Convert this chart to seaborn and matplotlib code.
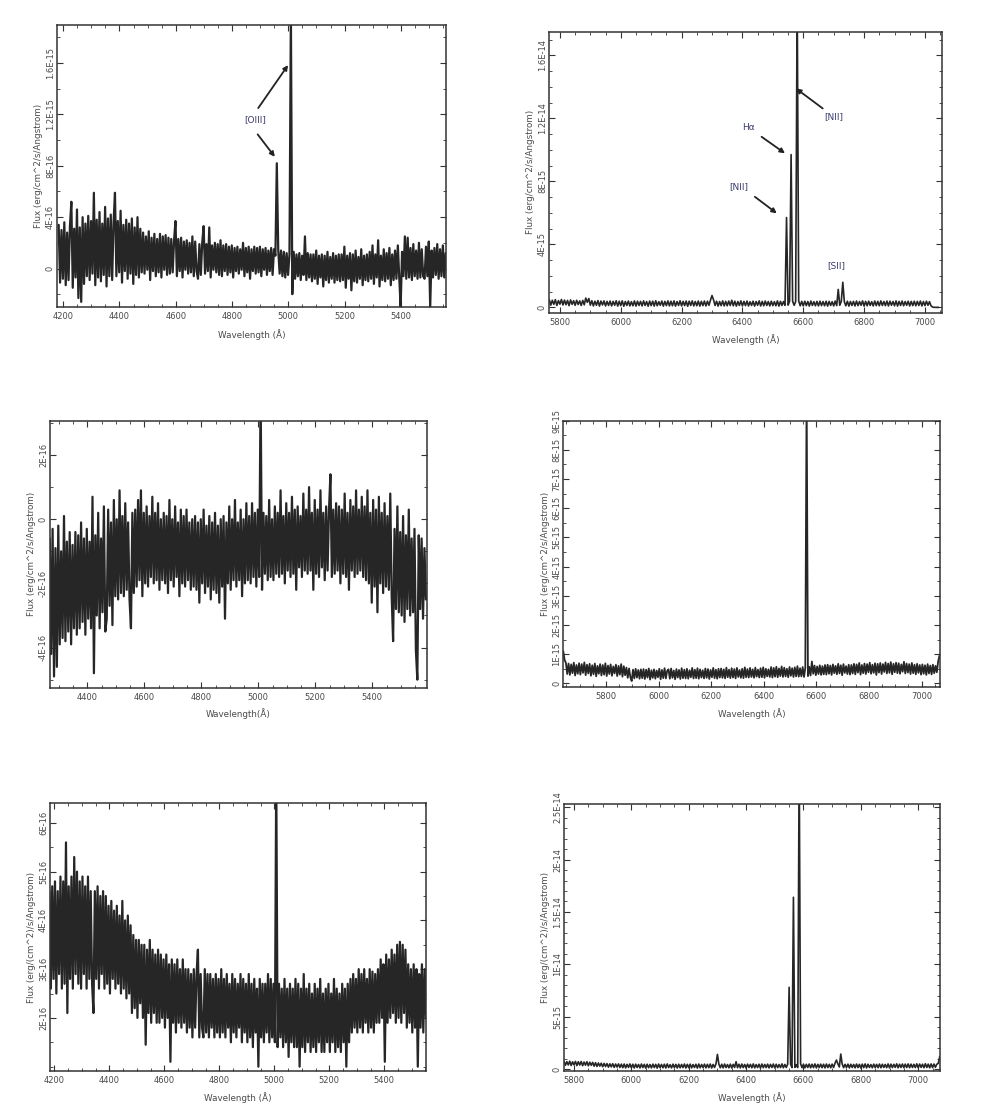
import numpy as np
import matplotlib
matplotlib.use("Agg")
import matplotlib.pyplot as plt
from matplotlib.ticker import MultipleLocator
import seaborn as sns

# ---------------- data (flux in units of 1e-16 erg/cm^2/s/A, 5 A sampling) ----------------
FLUX_UNIT = 1e-16
STEP = 5.0

P1_START = 4184.0
P1_FLUX = [
    3.4, -1.1, 3.0, -0.8, 3.6, -1.3, 2.8, -0.9, 3.3, 5.2, -1.5, 3.1, -0.7, 4.6, -2.3, 3.2, -2.6, 4.0, -1.2, 3.5,
    -0.6, 4.1, -0.9, 3.7, -0.4, 5.9, -1.3, 3.8, -0.7, 4.4, -1.0, 3.5, -0.5, 4.8, -1.4, 3.9, -0.6, 4.2, -0.9, 3.6,
    5.9, -0.6, 3.7, -0.3, 4.5, -1.1, 3.4, -0.2, 3.8, -0.8, 3.5, -0.4, 3.9, -1.2, 3.2, -0.5, 4.0, -0.7, 3.1, -0.3,
    2.8, -0.4, 2.5, -0.1, 2.9, -0.9, 2.4, -0.2, 2.7, -0.6, 2.3, -0.3, 2.7, -0.7, 2.5, -0.1, 2.6, -0.5, 2.4, -0.4,
    2.3, -0.3, 2.2, 3.7, -0.6, 2.3, -0.2, 2.4, -0.7, 2.1, -0.1, 2.2, -0.4, 2.0, -0.3, 2.5, -0.6, 2.1, -0.2, -0.8,
    1.9, -0.5, 2.0, 3.3, -0.4, 1.9, -0.2, 3.2, -0.7, 1.8, -0.1, 2.0, -0.3, 1.9, -0.5, 2.2, -0.6, 1.8, -0.2, 1.9,
    -0.5, 1.7, -0.3, 1.8, -0.7, 1.6, -0.2, 1.7, -0.4, 1.5, -0.1, 2.0, -0.6, 1.6, -0.3, 1.7, -0.8, 1.5, -0.2, 1.7,
    -0.4, 1.6, -0.3, 1.7, -0.6, 1.5, -0.1, 1.6, -0.5, 1.4, -0.2, 1.6, -0.5, 1.5, 1.0, 8.2, 1.5, -0.4, 1.4, -0.6,
    1.3, -0.7, 1.2, -0.5, 1.1, 20.0, -2.0, 1.3, -0.8, 1.1, -0.6, 1.2, -0.9, 1.0, -0.5, 2.5, -0.9, 1.2, -0.7, 1.1,
    -1.0, 1.1, -0.8, 1.4, -1.2, 1.0, -0.7, 1.1, -1.4, 1.0, -0.9, 1.3, -1.1, 0.9, -0.8, 1.2, -1.1, 1.0, -0.9, 1.1,
    -1.0, 1.1, -0.9, 1.7, -1.5, 1.0, -0.8, 1.2, -1.7, 1.1, -1.0, 1.4, -1.1, 0.9, -0.8, 1.5, -1.3, 1.0, -0.9, 1.1,
    -1.0, 1.3, -0.8, 1.8, -1.2, 1.1, -0.7, 2.2, -1.4, 1.0, -0.9, 1.5, -1.0, 1.2, -0.8, 1.6, -1.3, 1.1, -0.9, 1.4,
    -0.8, 1.8, -0.7, -3.0, 1.3, -0.6, 2.5, -0.8, 2.4, -0.7, 1.6, -0.9, 1.9, -0.6, 1.4, -0.8, 2.0, -0.7, 1.5, -0.6,
    -0.8, 1.7, -0.6, 2.1, -3.0, 1.4, -0.7, 1.6, -0.5, 1.9, -0.8, 1.5, -0.6, 1.8, -0.7, 1.2,
]

P2_START = 5765.0
P2_FLUX = [
    4.8, 1.4, 4.5, 1.9, 4.9, 1.2, 4.3, 2.0, 5.0, 1.5, 4.6, 1.7, 4.4, 1.1, 4.7, 1.9, 4.2, 1.3, 4.5, 1.8,
    4.1, 1.2, 4.4, 1.6, 5.9, 3.2, 5.6, 1.4, 4.2, 0.9, 3.9, 1.3, 4.3, 0.8, 4.0, 1.5, 4.1, 0.9, 3.8, 1.2,
    4.0, 0.9, 3.8, 1.3, 4.2, 0.8, 3.9, 1.1, 4.1, 0.7, 3.7, 1.2, 4.0, 0.9, 3.6, 1.0, 4.1, 0.8, 3.9, 1.2,
    3.8, 0.9, 4.1, 1.2, 3.7, 0.7, 4.0, 1.1, 3.9, 0.8, 4.2, 1.0, 3.6, 1.3, 4.0, 0.8, 3.8, 1.1, 4.1, 0.9,
    3.9, 1.0, 4.1, 0.8, 3.7, 1.2, 4.2, 0.9, 3.8, 1.1, 4.0, 0.7, 3.9, 1.2, 4.1, 0.9, 3.7, 1.0, 4.0, 0.8,
    3.8, 1.1, 4.0, 0.9, 3.9, 1.3, 4.6, 7.5, 4.8, 1.2, 3.9, 0.8, 3.7, 1.1, 4.1, 0.9, 3.8, 1.0, 4.0, 1.2,
    4.5, 1.0, 3.9, 0.8, 3.7, 1.2, 4.1, 0.9, 3.8, 1.1, 4.0, 0.9, 3.6, 1.2, 3.9, 0.8, 3.7, 1.3, 4.1, 0.9,
    3.8, 1.0, 4.0, 1.2, 3.7, 0.9, 3.9, 1.1, 3.6, 1.0, 4.1, 0.8, 3.8, 1.2, 3.7, 1.3, 57.0, 1.4, 3.8, 97.0,
    3.9, 1.3, 3.7, 200.0, 4.0, 1.0, 3.8, 0.9, 3.9, 1.1, 3.7, 0.8, 4.0, 1.2, 3.6, 1.0, 3.8, 0.9, 3.9, 1.1,
    3.7, 1.0, 3.9, 0.8, 3.8, 1.2, 3.6, 0.9, 4.0, 1.1, 11.4, 1.3, 3.8, 15.9, 3.6, 1.0, 3.9, 0.8, 3.7, 1.2,
    3.8, 0.9, 4.0, 1.1, 3.7, 1.3, 4.1, 0.8, 3.8, 1.0, 3.9, 1.2, 3.6, 0.9, 4.0, 1.1, 3.8, 1.0, 4.1, 1.2,
    3.7, 1.1, 4.0, 0.9, 3.9, 1.3, 3.7, 1.0, 4.1, 0.8, 3.8, 1.2, 4.0, 1.0, 3.7, 1.3, 3.9, 0.9, 3.8, 1.1,
    3.9, 1.0, 3.8, 1.2, 4.0, 0.9, 3.7, 1.1, 3.9, 1.3, 3.6, 1.0, 0.2, 0.0, 0.0, 0.0, 0.0,
]

P3_START = 4268.0
P3_FLUX = [
    -0.6, -4.2, -0.3, -4.9, -0.9, -4.6, -0.2, -3.9, -1.0, -3.7, 0.1, -3.8, -0.7, -3.5, -0.4, -3.9, -0.8, -3.4, -0.4, -3.6,
    -0.5, -3.4, -0.1, -3.2, -0.6, -3.6, -0.3, -3.1, -0.7, -3.4, 0.7, -4.8, -0.5, -3.0, 0.2, -3.4, -0.6, -2.9, 0.4, -3.5,
    -3.1, 0.3, -2.7, -0.1, -3.3, 0.6, -2.4, 0.0, -2.5, 0.9, -2.3, 0.1, -2.4, 0.5, -2.2, -0.1, -2.5, -3.4, 0.2, -2.3,
    0.3, -2.1, 0.6, -1.9, 0.9, -2.4, 0.2, -2.0, 0.4, -2.1, 0.1, -1.8, 0.7, -2.0, 0.2, -1.9, 0.5, -2.2, 0.0, -1.9,
    0.2, -2.0, 0.1, -2.3, 0.6, -1.9, 0.0, -2.1, 0.4, -1.8, -0.1, -2.4, 0.3, -2.0, 0.1, -2.1, 0.3, -1.9, -0.1, -2.2,
    0.0, -2.1, 0.1, -2.2, -0.1, -2.6, 0.0, -2.0, 0.3, -2.3, -0.2, -2.1, 0.1, -2.5, -0.1, -2.2, 0.2, -2.3, -0.2, -2.6,
    0.0, -2.1, 0.1, -3.1, -0.1, -2.0, 0.4, -2.2, 0.0, -1.9, 0.6, -2.1, -0.1, -1.9, 0.3, -2.4, 0.0, -2.0, 0.5, -1.9,
    0.1, -2.0, 0.5, -1.8, 0.2, -2.1, 0.3, -1.8, 4.0, -2.2, 0.2, -1.7, 0.1, -1.9, 0.6, -1.8, 0.0, -1.9, 0.4, -1.7,
    0.2, -1.8, 0.9, -1.7, 0.1, -2.0, 0.5, -1.6, 0.2, -1.8, 0.7, -1.7, 0.3, -2.2, 0.4, -1.5, 0.1, -1.8, 0.8, -1.6,
    0.3, -1.7, 1.0, -1.6, 0.2, -2.2, 0.6, -1.7, 0.3, -1.8, 0.9, -1.5, 0.2, -1.9, 0.4, -1.6, 0.3, 1.4, -1.8, 0.3,
    -1.7, 0.5, -1.6, 0.4, -2.0, 0.3, -1.7, 0.8, -1.8, 0.2, -2.2, 0.6, -1.6, 0.4, -1.8, 0.9, -1.7, 0.3, -1.6, 0.7,
    -1.8, 0.4, -1.9, 0.9, -2.0, 0.2, -2.6, 0.6, -2.1, 0.3, -2.9, 0.7, -2.0, 0.2, -2.3, 0.5, -2.1, 0.1, -2.2, 0.8,
    -2.4, -3.8, -0.3, -2.8, 0.4, -2.9, -0.4, -3.0, 0.1, -3.2, -0.5, -2.8, 0.3, -3.0, -0.6, -2.9, -0.3, -4.1, -5.0, -0.5,
    -2.8, -0.6, -3.1, -0.9, -2.5,
]

P4_START = 5638.0
P4_FLUX = [
    11.0, 8.0, 7.0, 3.2, 6.8, 2.9, 6.5, 3.5, 7.1, 2.7, 6.3, 3.3, 6.9, 3.0, 6.6, 3.6, 7.2, 2.8, 6.4, 3.4,
    6.7, 2.6, 6.2, 3.1, 6.8, 2.4, 6.0, 3.3, 6.6, 2.7, 6.3, 3.0, 6.9, 2.5, 6.1, 3.2, 6.5, 2.6, 5.8, 3.4,
    6.4, 2.5, 6.0, 3.0, 6.6, 2.3, 5.9, 2.8, 5.4, 1.9, 5.1, 2.1, 0.8, 4.7, 1.7, 5.0, 2.0, 4.6, 1.6, 4.8,
    1.8, 4.9, 1.5, 4.7, 2.0, 5.1, 1.3, 4.5, 1.9, 4.8, 1.6, 4.4, 2.1, 5.0, 1.4, 4.6, 1.8, 5.2, 1.7, 4.3,
    4.8, 1.6, 5.1, 1.9, 4.4, 1.4, 4.9, 2.0, 4.6, 1.5, 5.2, 1.8, 4.7, 1.7, 5.0, 1.6, 4.5, 2.1, 5.3, 1.7,
    4.7, 1.8, 5.2, 1.6, 4.8, 2.0, 4.5, 1.7, 5.1, 1.9, 4.9, 1.5, 4.6, 2.1, 5.3, 1.8, 4.7, 1.6, 5.0, 2.0,
    5.1, 1.9, 4.8, 1.7, 5.4, 2.1, 4.7, 1.8, 5.2, 2.0, 4.9, 1.7, 5.3, 2.2, 4.6, 1.9, 5.0, 1.8, 5.5, 2.1,
    4.9, 2.0, 5.3, 2.2, 4.8, 1.9, 5.4, 2.3, 4.7, 2.0, 5.2, 2.1, 5.5, 1.9, 5.0, 2.4, 4.8, 2.2, 5.6, 2.0,
    5.3, 2.3, 5.7, 2.1, 5.1, 2.5, 5.8, 2.2, 5.4, 2.4, 5.0, 2.1, 5.6, 2.6, 5.2, 2.2, 5.5, 2.4, 5.9, 2.3,
    5.2, 2.4, 5.6, 2.2, 5.3, 100.0, 2.5, 5.7, 2.7, 7.5, 3.3, 6.1, 2.8, 5.8, 3.2, 6.2, 2.9, 5.9, 3.1, 6.3,
    3.0, 6.4, 3.3, 6.1, 2.9, 6.5, 3.5, 6.0, 3.1, 6.7, 3.4, 6.2, 2.8, 6.6, 3.6, 5.9, 3.2, 6.4, 3.0, 6.3,
    3.4, 6.7, 3.1, 6.5, 3.7, 7.0, 3.0, 6.3, 3.5, 6.8, 3.2, 6.6, 3.8, 7.1, 3.3, 6.4, 3.6, 6.9, 2.9, 6.7,
    3.7, 7.0, 3.2, 6.6, 3.9, 7.2, 3.4, 6.8, 3.6, 7.3, 3.1, 6.7, 3.8, 7.1, 3.5, 6.9, 3.3, 6.5, 4.0, 7.4,
    3.4, 6.8, 3.7, 6.6, 3.2, 7.0, 3.5, 6.4, 3.1, 6.7, 3.6, 6.3, 3.0, 6.5, 3.3, 6.2, 2.9, 6.6, 3.4, 6.1,
    3.1, 6.4, 3.5, 6.0, 3.8, 7.5, 9.5,
]

P5_START = 4182.0
P5_FLUX = [
    4.6, 2.6, 4.7, 2.8, 4.8, 2.5, 4.6, 2.9, 4.9, 2.6, 4.8, 2.7, 5.6, 2.1, 4.7, 2.8, 4.9, 2.6, 5.3, 2.9,
    5.0, 2.7, 4.8, 2.6, 4.9, 2.9, 4.7, 2.6, 4.9, 2.8, 4.6, 2.7, 2.1, 4.6, 2.8, 4.7, 2.6, 4.5, 2.9, 4.6,
    2.6, 4.5, 2.7, 4.3, 2.5, 4.4, 2.8, 4.2, 2.6, 4.3, 2.7, 4.1, 2.5, 4.4, 2.6, 4.0, 2.4, 4.1, 2.5, 3.9,
    2.1, 3.7, 2.2, 3.6, 2.0, 3.6, 2.3, 3.5, 2.0, 3.5, 1.45, 3.4, 2.1, 3.6, 1.9, 3.4, 2.1, 3.3, 1.9, 3.4,
    1.9, 3.3, 2.0, 3.2, 1.8, 3.3, 2.0, 3.1, 1.1, 3.2, 1.9, 3.1, 1.7, 3.2, 1.9, 3.0, 1.8, 3.2, 1.9, 3.0,
    1.7, 3.0, 1.8, 2.9, 1.6, 3.0, 1.8, 2.9, 3.4, 1.6, 2.9, 1.8, 1.6, 3.0, 1.7, 2.9, 1.6, 2.9, 1.8, 2.8,
    1.6, 2.9, 1.7, 2.8, 1.6, 3.0, 1.7, 2.8, 1.6, 2.9, 1.8, 2.7, 1.5, 2.9, 1.7, 2.8, 1.6, 2.7, 1.8, 2.9,
    1.5, 2.8, 1.7, 2.7, 1.5, 2.9, 1.6, 2.7, 1.4, 2.8, 1.7, 2.6, 1.0, 2.8, 1.6, 2.7, 1.5, 2.7, 1.7, 2.9,
    1.5, 2.8, 1.6, 2.7, 1.5, 7.0, 1.4, 2.7, 1.6, 2.6, 1.4, 2.8, 1.5, 2.6, 1.2, 2.7, 1.5, 2.6, 1.4, 2.8,
    1.4, 2.7, 1.0, 2.6, 1.4, 2.9, 1.3, 2.6, 1.5, 2.7, 1.3, 2.5, 1.4, 2.7, 1.3, 2.6, 1.5, 2.8, 1.3, 2.5,
    1.3, 2.6, 1.5, 2.7, 1.3, 2.5, 1.5, 2.8, 1.3, 2.6, 1.4, 2.5, 1.3, 2.7, 1.5, 2.6, 1.0, 2.7, 1.5, 2.8,
    1.7, 2.9, 1.8, 2.8, 1.7, 3.0, 1.8, 2.9, 1.7, 3.0, 1.9, 2.8, 1.7, 3.0, 1.8, 2.95, 1.7, 2.9, 1.9, 3.0,
    1.9, 3.2, 2.0, 3.1, 1.1, 3.3, 1.9, 3.2, 2.0, 3.4, 2.1, 3.3, 1.9, 3.5, 2.0, 3.56, 1.9, 3.5, 2.1, 3.4,
    1.8, 3.1, 1.9, 3.0, 1.7, 3.1, 1.8, 3.0, 1.0, 2.9, 1.8, 3.1, 1.7, 3.0, 2.0,
]

P6_START = 5765.0
P6_FLUX = [
    7.4, 3.6, 7.1, 3.9, 7.5, 3.4, 6.9, 4.0, 7.3, 3.3, 7.0, 3.8, 7.2, 3.2, 6.7, 3.7, 7.0, 3.1, 6.5, 3.6,
    6.4, 2.7, 6.1, 2.5, 5.8, 2.8, 5.6, 2.2, 5.4, 2.4, 5.2, 1.8, 5.0, 2.1, 5.1, 1.6, 4.8, 1.9, 4.9, 1.5,
    4.7, 1.3, 4.8, 1.1, 4.5, 1.6, 4.9, 1.2, 4.6, 1.0, 4.7, 1.5, 4.4, 1.1, 4.8, 1.4, 4.5, 0.9, 4.6, 1.3,
    4.3, 1.1, 4.7, 1.4, 4.5, 0.9, 4.8, 1.3, 4.4, 1.2, 4.6, 1.0, 4.9, 1.4, 4.2, 1.1, 4.7, 1.3, 4.5, 1.0,
    4.6, 1.2, 4.4, 1.4, 4.8, 1.0, 4.5, 1.3, 4.7, 1.1, 4.3, 1.5, 4.6, 0.9, 4.8, 1.2, 4.4, 1.4, 4.7, 1.1,
    4.5, 1.3, 4.8, 1.0, 4.4, 1.5, 5.0, 14.0, 4.7, 1.2, 4.6, 1.1, 4.8, 1.4, 4.3, 1.2, 4.7, 1.0, 4.5, 1.5,
    7.0, 1.3, 4.6, 1.1, 4.8, 1.4, 4.4, 1.0, 4.7, 1.5, 4.5, 1.2, 4.9, 1.1, 4.3, 1.4, 4.6, 0.9, 4.8, 1.3,
    4.4, 1.4, 4.7, 1.1, 4.5, 1.5, 4.8, 1.0, 4.6, 1.3, 4.3, 1.4, 4.9, 1.2, 4.4, 1.5, 4.7, 78.0, 4.6, 1.4,
    164.0, 1.6, 4.2, 1.5, 300.0, 5.0, 1.3, 4.7, 1.1, 4.5, 1.5, 4.8, 1.2, 4.6, 1.4, 4.9, 1.1, 4.5, 1.5, 4.7,
    1.3, 4.6, 1.1, 4.8, 1.4, 4.5, 1.2, 4.7, 1.5, 5.6, 8.6, 4.9, 2.0, 14.3, 4.8, 1.3, 4.5, 1.4, 4.7, 1.1,
    4.6, 1.5, 4.4, 1.2, 4.8, 1.4, 4.5, 1.0, 4.7, 1.3, 4.9, 1.1, 4.6, 1.5, 4.3, 1.2, 4.7, 1.4, 4.5, 1.3,
    4.8, 1.2, 4.6, 1.5, 4.4, 1.3, 4.9, 1.1, 4.7, 1.4, 4.5, 1.6, 5.0, 1.2, 4.6, 1.5, 4.8, 1.3, 4.7, 1.4,
    4.9, 1.3, 4.7, 1.5, 4.5, 1.4, 5.0, 1.2, 4.8, 1.6, 4.6, 1.3, 5.1, 1.5, 4.7, 1.2, 4.9, 1.4, 4.8, 1.7,
    4.6, 5.5, 11.8,
]

# tick values / labels
P1_XTICKS = [4200, 4400, 4600, 4800, 5000, 5200, 5400]
P1_YTICKS = [0, 4e-16, 8e-16, 1.2e-15, 1.6e-15]
P1_YLABELS = ["0", "4E-16", "8E-16", "1.2E-15", "1.6E-15"]
P2_XTICKS = [5800, 6000, 6200, 6400, 6600, 6800, 7000]
P2_YTICKS = [0, 4e-15, 8e-15, 1.2e-14, 1.6e-14]
P2_YLABELS = ["0", "4E-15", "8E-15", "1.2E-14", "1.6E-14"]
P3_XTICKS = [4400, 4600, 4800, 5000, 5200, 5400]
P3_YTICKS = [-4e-16, -2e-16, 0, 2e-16]
P3_YLABELS = ["-4E-16", "-2E-16", "0", "2E-16"]
P4_XTICKS = [5800, 6000, 6200, 6400, 6600, 6800, 7000]
P4_YTICKS = [0, 1e-15, 2e-15, 3e-15, 4e-15, 5e-15, 6e-15, 7e-15, 8e-15, 9e-15]
P4_YLABELS = ["0", "1E-15", "2E-15", "3E-15", "4E-15", "5E-15", "6E-15", "7E-15", "8E-15", "9E-15"]
P5_XTICKS = [4200, 4400, 4600, 4800, 5000, 5200, 5400]
P5_YTICKS = [2e-16, 3e-16, 4e-16, 5e-16, 6e-16]
P5_YLABELS = ["2E-16", "3E-16", "4E-16", "5E-16", "6E-16"]
P6_XTICKS = [5800, 6000, 6200, 6400, 6600, 6800, 7000]
P6_YTICKS = [0, 5e-15, 1e-14, 1.5e-14, 2e-14, 2.5e-14]
P6_YLABELS = ["0", "5E-15", "1E-14", "1.5E-14", "2E-14", "2.5E-14"]

YLAB_A = "Flux (erg/cm^2/s/Angstrom)"
YLAB_B = "Flux (erg/(cm^2)/s/Angstrom)"
XLAB_A = "Wavelength (\u00c5)"
XLAB_B = "Wavelength(\u00c5)"

# ---------------- style ----------------
sns.set_theme(style="ticks")
plt.rcParams["font.family"] = ["DejaVu Sans"]
LINE_COLOR = "#262626"
TEXT_COLOR = "#4a4a4a"
ANNO_COLOR = "#3b3b6e"
FS = 6.0

fig = plt.figure(figsize=(9.81, 11.18), dpi=100)
fig.patch.set_facecolor("white")

panels = [
    dict(rect=[0.0581, 0.7254, 0.3965, 0.2522], start=P1_START, flux=P1_FLUX, xlim=(4178, 5560),
         ylim=(-3.0e-16, 18.97e-16), xt=P1_XTICKS, yt=P1_YTICKS, yl=P1_YLABELS, ymin=2e-16,
         ylab=YLAB_A, xlab=XLAB_A, lw=1.6),
    dict(rect=[0.5596, 0.7203, 0.4003, 0.2513], start=P2_START, flux=P2_FLUX, xlim=(5764, 7055),
         ylim=(-3.4e-16, 175e-16), xt=P2_XTICKS, yt=P2_YTICKS, yl=P2_YLABELS, ymin=1e-15,
         ylab=YLAB_A, xlab=XLAB_A, lw=1.2),
    dict(rect=[0.0510, 0.3849, 0.3840, 0.2385], start=P3_START, flux=P3_FLUX, xlim=(4269, 5591),
         ylim=(-5.25e-16, 3.06e-16), xt=P3_XTICKS, yt=P3_YTICKS, yl=P3_YLABELS, ymin=1e-16,
         ylab=YLAB_A, xlab=XLAB_B, lw=1.6),
    dict(rect=[0.5742, 0.3852, 0.3840, 0.2385], start=P4_START, flux=P4_FLUX, xlim=(5638, 7070),
         ylim=(-1.36e-16, 90e-16), xt=P4_XTICKS, yt=P4_YTICKS, yl=P4_YLABELS, ymin=5e-16,
         ylab=YLAB_A, xlab=XLAB_A, lw=1.3),
    dict(rect=[0.0510, 0.0420, 0.3833, 0.2394], start=P5_START, flux=P5_FLUX, xlim=(4184, 5552),
         ylim=(0.91e-16, 6.40e-16), xt=P5_XTICKS, yt=P5_YTICKS, yl=P5_YLABELS, ymin=5e-17,
         ylab=YLAB_B, xlab=XLAB_A, lw=1.6),
    dict(rect=[0.5749, 0.0420, 0.3833, 0.2388], start=P6_START, flux=P6_FLUX, xlim=(5765, 7076),
         ylim=(-1.9e-16, 253e-16), xt=P6_XTICKS, yt=P6_YTICKS, yl=P6_YLABELS, ymin=1e-15,
         ylab=YLAB_B, xlab=XLAB_A, lw=1.2),
]

axes = []
for p in panels:
    ax = fig.add_axes(p["rect"])
    flux = np.asarray(p["flux"]) * FLUX_UNIT
    wave = p["start"] + STEP * np.arange(len(flux))
    sns.lineplot(x=wave, y=flux, ax=ax, color=LINE_COLOR, linewidth=p["lw"],
                 estimator=None, sort=False, legend=False)
    ax.set_xlim(*p["xlim"])
    ax.set_ylim(*p["ylim"])
    ax.set_facecolor("white")
    ax.set_xticks(p["xt"])
    ax.set_xticklabels([str(v) for v in p["xt"]])
    ax.set_yticks(p["yt"])
    ax.set_yticklabels(p["yl"])
    ax.xaxis.set_minor_locator(MultipleLocator(50))
    ax.yaxis.set_minor_locator(MultipleLocator(p["ymin"]))
    ax.tick_params(axis="both", which="both", direction="in", top=True, right=True,
                   colors="#333333", labelcolor=TEXT_COLOR, labelsize=FS)
    ax.tick_params(which="major", length=4, width=0.8)
    ax.tick_params(which="minor", length=2, width=0.6)
    ax.tick_params(axis="y", labelrotation=90, pad=1.5)
    ax.tick_params(axis="x", pad=3.5)
    for lbl in ax.get_yticklabels():
        lbl.set_va("center")
    for s in ax.spines.values():
        s.set_color("#333333")
        s.set_linewidth(1.1)
    ax.set_ylabel(p["ylab"], fontsize=6.3, color=TEXT_COLOR)
    ax.set_xlabel(p["xlab"], fontsize=6.3, color=TEXT_COLOR)
    ax.yaxis.set_label_coords(-0.036, 0.5)
    ax.xaxis.set_label_coords(0.5, -0.078)
    ax.grid(False)
    axes.append(ax)

arrow = dict(arrowstyle="-|>", color="#222222", lw=1.3, mutation_scale=7, shrinkA=0, shrinkB=0)

ax1 = axes[0]
ax1.text(4883, 11.6e-16, "[OIII]", fontsize=6.5, color=ANNO_COLOR, ha="center", va="center")
ax1.annotate("", xy=(4999, 15.85e-16), xytext=(4893, 12.5e-16), arrowprops=arrow)
ax1.annotate("", xy=(4952, 8.7e-16), xytext=(4891, 10.45e-16), arrowprops=arrow)

ax2 = axes[1]
ax2.text(6699, 121e-16, "[NII]", fontsize=6.5, color=ANNO_COLOR, ha="center", va="center")
ax2.annotate("", xy=(6576, 139e-16), xytext=(6664, 126.3e-16), arrowprops=arrow)
ax2.text(6419, 114e-16, "H\u03b1", fontsize=6.5, color=ANNO_COLOR, ha="center", va="center")
ax2.annotate("", xy=(6540, 97.8e-16), xytext=(6463, 108.3e-16), arrowprops=arrow)
ax2.text(6389, 76.6e-16, "[NII]", fontsize=6.5, color=ANNO_COLOR, ha="center", va="center")
ax2.annotate("", xy=(6513, 59.7e-16), xytext=(6441, 70.2e-16), arrowprops=arrow)
ax2.text(6708, 26.4e-16, "[SII]", fontsize=6.5, color=ANNO_COLOR, ha="center", va="center")

fig.savefig("out.png", dpi=100, facecolor="white")
